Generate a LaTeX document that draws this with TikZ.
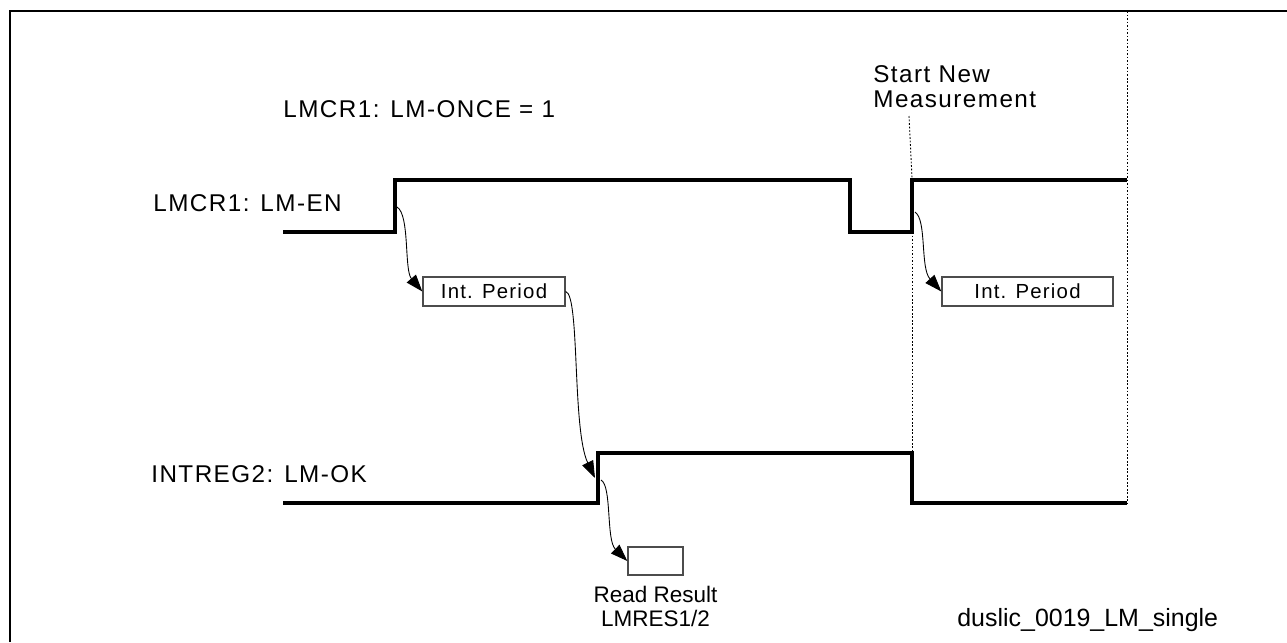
\documentclass[tikz,border=0pt]{standalone}
\usepackage{fontspec}
\setmainfont{Liberation Sans}
\newfontfamily\spacedsans[LetterSpace=6]{Liberation Sans}
\usetikzlibrary{arrows.meta, positioning}

\begin{document}
\begin{tikzpicture}[
        x=0.02cm, y=-0.02cm,
        every node/.style={inner sep=0pt},
        signal/.style={line width=2.8pt},
        frameline/.style={line width=1.7pt},
        guide/.style={line width=0.5pt, dash pattern=on 1pt off 1pt},
        siglabel/.style={
            anchor=base west,
            font=\spacedsans\fontsize{13.8pt}{14.5pt}\selectfont
        },
        period/.style={
            rectangle,
            draw=black!70,
            line width=0.8pt,
            minimum height=0.58cm,
            font=\spacedsans\fontsize{11.6pt}{14pt}\selectfont
        },
        note/.style={align=center, font=\fontsize{12.8pt}{14pt}\selectfont},
        arrow/.style={-{Triangle[length=0.34cm, width=0.24cm]}, line width=0.5pt}
    ]

    \useasboundingbox (0,0) rectangle (1287,642);
    \draw[frameline] (10,642) -- (10,11) -- (1287,11);

    % Waveforms
    \draw[signal] (283,232) -- (395,232) -- (395,180) -- (850,180) -- (850,232)
        -- (912,232) -- (912,180) -- (1127,180);
    \draw[signal] (283,503) -- (598,503) -- (598,453) -- (912,453) -- (912,503) -- (1127,503);

    \draw[guide] (1127,11) -- (1127,503);
    \draw[guide] (912,232) -- (912,453);

    % Edge points
    \coordinate (enrise1) at (397,207);
    \coordinate (enrise2) at (915,212);
    \coordinate (oktip) at (595,478);
    \coordinate (okstart) at (601,480);
    \coordinate (leadtop) at (909,116);
    \coordinate (leadend) at (912,178);

    % Nodes
    \node[siglabel] (oncelbl) at (283,117) {LMCR1: LM-ONCE = 1};
    \node[siglabel] (enlbl) at (153,211) {LMCR1: LM-EN};
    \node[siglabel] (oklbl) at (151,482) {INTREG2: LM-OK};
    \node[siglabel, anchor=north west, align=left] (startnew) at (873,65) {Start New\\Measurement};

    \node[period, minimum width=2.84cm] (int1) at (494,291.5) {Int. Period};
    \node[period, minimum width=3.42cm] (int2) at (1027.5,291.5) {Int. Period};
    \node[period, minimum width=1.1cm, minimum height=0.56cm] (readbox) at (655.5,561) {};
    \node[note, below=0.2cm of readbox] (readtxt) {Read Result\\LMRES1/2};

    \node[anchor=base west, font=\fontsize{14.2pt}{17pt}\selectfont] (fignum) at (957,626) {duslic\_0019\_LM\_single};

    % Arrows
    \draw[arrow] (enrise1) .. controls (410,215) and (404,270) .. (int1.west);
    \draw[arrow] (int1.east) .. controls (580,295) and (572,430) .. (oktip);
    \draw[arrow] (okstart) .. controls (612,486) and (606,540) .. (readbox.west);
    \draw[arrow] (enrise2) .. controls (927,220) and (920,268) .. (int2.west);

    \draw[guide] (leadtop) -- (leadend);

\end{tikzpicture}
\end{document}
